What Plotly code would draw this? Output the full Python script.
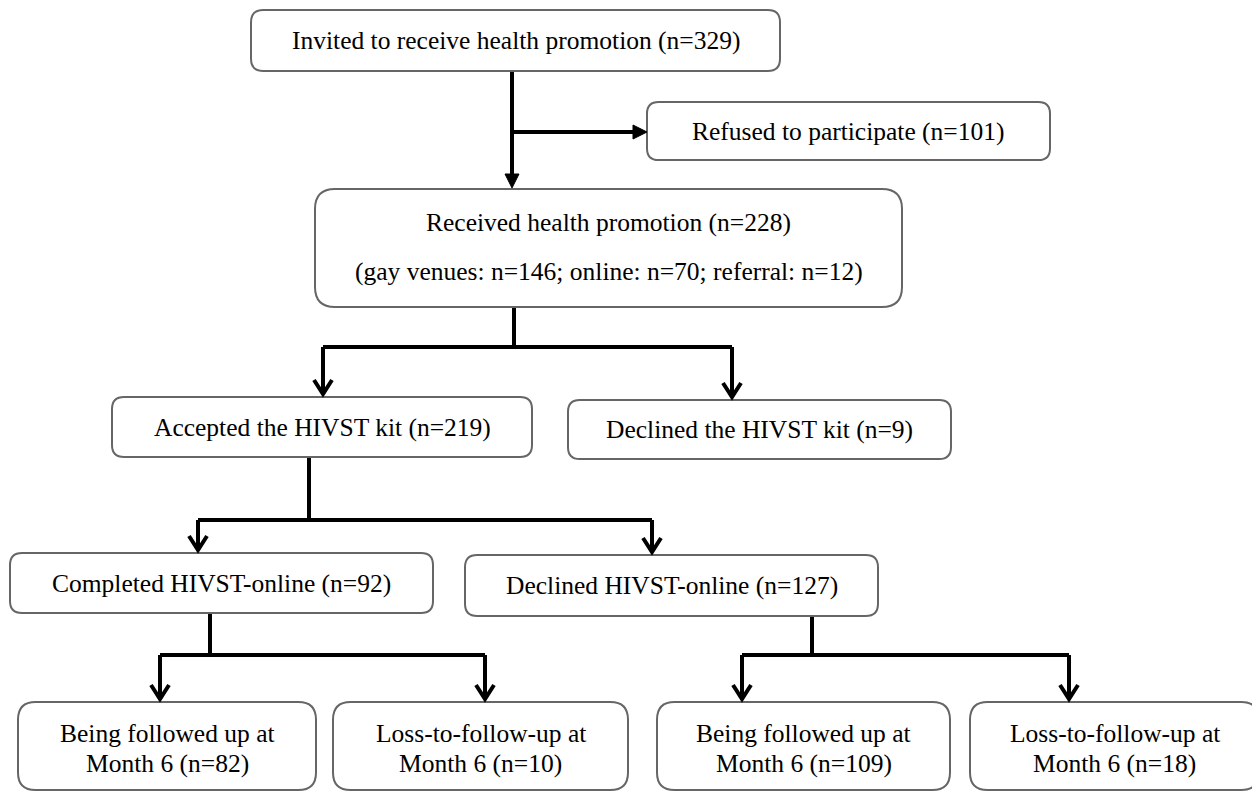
import plotly.graph_objects as go

# ---- data ----
labels = ["Invited to receive health promotion", "Refused to participate", "Received health promotion",
          "Accepted the HIVST kit", "Declined the HIVST kit", "Completed HIVST-online",
          "Declined HIVST-online", "Being followed up at", "Loss-to-follow-up at",
          "Being followed up at", "Loss-to-follow-up at"]
counts = [329, 101, 228, 219, 9, 92, 127, 82, 10, 109, 18]
source_names = ["gay venues", "online", "referral"]
source_counts = [146, 70, 12]
second_line = "Month 6"

# ---- layout geometry (screen pixels) ----
boxes = [
    (251, 10, 780, 71),     # invited
    (647, 102, 1050, 160),  # refused
    (315, 189, 902, 307),   # received
    (112, 397, 532, 457),   # accepted
    (568, 400, 951, 459),   # declined kit
    (10, 553, 433, 613),    # completed online
    (465, 555, 878, 616),   # declined online
    (18, 702, 316, 790),    # follow 82
    (333, 702, 628, 790),   # ltfu 10
    (657, 702, 950, 790),   # follow 109
    (970, 702, 1259, 790),  # ltfu 18
]

OFF = 8  # page body margin
FONT = dict(family="Liberation Serif, Times New Roman, serif", size=25.5, color="black")
LW = 4


def rrect(x0, y0, x1, y1):
    r = min(0.2 * (y1 - y0), 20)
    return (f"M {x0+r},{y0} L {x1-r},{y0} Q {x1},{y0} {x1},{y0+r} "
            f"L {x1},{y1-r} Q {x1},{y1} {x1-r},{y1} L {x0+r},{y1} "
            f"Q {x0},{y1} {x0},{y1-r} L {x0},{y0+r} Q {x0},{y0} {x0+r},{y0} Z")


shapes = []
annotations = []

for (x0, y0, x1, y1) in boxes:
    shapes.append(dict(type="path", path=rrect(x0, y0, x1, y1), xref="x", yref="y",
                       line=dict(color="#666666", width=2), fillcolor="white", layer="above"))


def txt(x, y, s):
    annotations.append(dict(x=x, y=y, xref="x", yref="y", text=s, showarrow=False,
                            font=FONT, xanchor="center", yanchor="middle"))


def line(x0, y0, x1, y1):
    shapes.append(dict(type="line", x0=x0, y0=y0, x1=x1, y1=y1, xref="x", yref="y",
                       line=dict(color="black", width=LW), layer="below"))


def vee(x, y):
    shapes.append(dict(type="path", path=f"M {x-9},{y-16} L {x},{y-2} L {x+9},{y-16}",
                       xref="x", yref="y", line=dict(color="black", width=LW), layer="above"))


def tri_down(x, y):
    shapes.append(dict(type="path", path=f"M {x-7},{y-14} L {x},{y} L {x+7},{y-14} Z",
                       xref="x", yref="y", fillcolor="black", line=dict(color="black", width=1)))


def tri_right(x, y):
    shapes.append(dict(type="path", path=f"M {x-14},{y-7} L {x},{y} L {x-14},{y+7} Z",
                       xref="x", yref="y", fillcolor="black", line=dict(color="black", width=1)))


# texts
for i in [0, 1, 3, 4, 5, 6]:
    x0, y0, x1, y1 = boxes[i]
    txt((x0 + x1) / 2, (y0 + y1) / 2, f"{labels[i]} (n={counts[i]})")

x0, y0, x1, y1 = boxes[2]
txt((x0 + x1) / 2, 222, f"{labels[2]} (n={counts[2]})")
src = "; ".join(f"{n}: n={c}" for n, c in zip(source_names, source_counts))
txt((x0 + x1) / 2, 271, f"({src})")

for i in range(7, 11):
    x0, y0, x1, y1 = boxes[i]
    cx = (x0 + x1) / 2
    txt(cx, 733, labels[i])
    txt(cx, 763, f"{second_line} (n={counts[i]})")

# connectors
line(512, 71, 512, 180)
tri_down(512, 188)
line(512, 132, 636, 132)
tri_right(647, 132)

line(514, 307, 514, 347)
line(323, 347, 732, 347)
line(323, 347, 323, 392)
line(732, 347, 732, 395)
vee(323, 396)
vee(732, 399)

line(309, 457, 309, 520)
line(198, 520, 652, 520)
line(198, 520, 198, 549)
line(652, 520, 652, 551)
vee(198, 552)
vee(652, 554)

line(210, 613, 210, 655)
line(160, 655, 485, 655)
line(160, 655, 160, 698)
line(485, 655, 485, 698)
vee(160, 701)
vee(485, 701)

line(812, 616, 812, 655)
line(742, 655, 1069, 655)
line(742, 655, 742, 698)
line(1069, 655, 1069, 698)
vee(742, 701)
vee(1069, 701)

fig = go.Figure()
fig.update_layout(
    width=1260, height=792,
    margin=dict(l=0, r=0, t=0, b=0),
    paper_bgcolor="white", plot_bgcolor="white",
    xaxis=dict(range=[OFF, 1260 + OFF], visible=False, fixedrange=True),
    yaxis=dict(range=[792 + OFF, OFF], visible=False, fixedrange=True),
    shapes=shapes, annotations=annotations, showlegend=False,
)
fig.write_html("out.html")
